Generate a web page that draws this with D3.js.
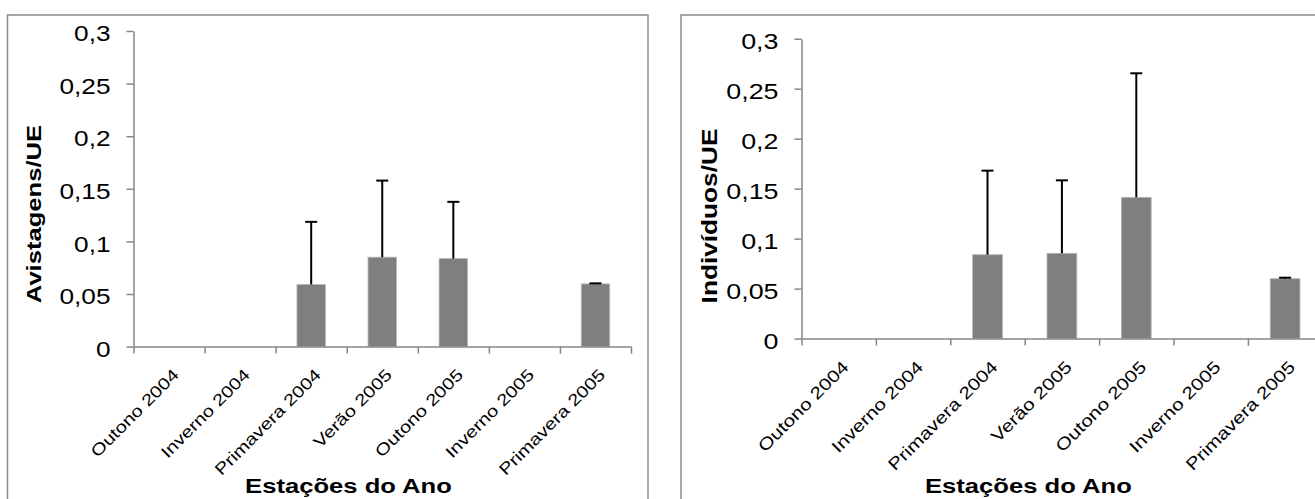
<!DOCTYPE html>
<html>
<head>
<meta charset="utf-8">
<script src="https://cdn.jsdelivr.net/npm/d3@7"></script>
<style>
  html, body { margin: 0; padding: 0; background: #fff; }
  svg { display: block; }
  text { font-family: "Liberation Sans", Arial, sans-serif; fill: #000; }
</style>
</head>
<body>
<svg id="chart" width="1315" height="499"></svg>
<script>
// Seasons sampled
const categories = ["Outono 2004", "Inverno 2004", "Primavera 2004", "Verão 2005",
                    "Outono 2005", "Inverno 2005", "Primavera 2005"];

// Sightings per unit of effort (mean and standard deviation)
const avistagens    = [0, 0, 0.059, 0.085, 0.0836, 0, 0.0596];
const avistagensErr = [0, 0, 0.0596, 0.0728, 0.054, 0, 0.0005];

// Individuals per unit of effort (mean and standard deviation)
const individuos    = [0, 0, 0.0839, 0.0853, 0.1413, 0, 0.0599];
const individuosErr = [0, 0, 0.0841, 0.073, 0.1241, 0, 0.001];

// Y axis tick values and titles
const yTicks = [0, 0.05, 0.1, 0.15, 0.2, 0.25, 0.3];
const xTitle = "Estações do Ano";
const yTitleLeft = "Avistagens/UE";
const yTitleRight = "Indivíduos/UE";

const ptBR = d3.formatLocale({ decimal: ",", thousands: ".", grouping: [3], currency: ["R$", ""] });
const fmt = ptBR.format("~g");

const svg = d3.select("#chart");
const STRETCH = 1.22;       // wide rendering of the glyphs along the baseline
const AXIS = "#868686";

function drawPanel(p) {
  const g = svg.append("g");

  // frame of the chart area
  g.append("path")
    .attr("d", `M${p.box[0]},${p.box[3]} V${p.box[1]} H${p.box[2]} V${p.box[3]}`)
    .attr("fill", "none").attr("stroke", "#8c8c8c").attr("stroke-width", 1.5);

  const x = d3.scaleBand().domain(categories)
    .range([p.x0, p.x1]).paddingInner(0.6).paddingOuter(0.3);
  const y = d3.scaleLinear().domain([0, 0.3]).range([p.yBottom, p.yTop]);
  const step = x.step();
  const edge = d3.scaleLinear().domain([0, categories.length]).range([p.x0, p.x1]);

  // bars
  const rows = categories.map((c, i) => ({ c, v: p.values[i], e: p.errors[i] }))
    .filter(d => d.v > 0);
  g.selectAll("rect.bar").data(rows).join("rect")
    .attr("class", "bar")
    .attr("x", d => x(d.c))
    .attr("width", x.bandwidth())
    .attr("y", d => y(d.v))
    .attr("height", d => y(0) - y(d.v))
    .attr("fill", "#7f7f7f")
    .attr("stroke", "#b5b5b5").attr("stroke-width", 0.8);

  // error bars (upper half)
  const cx = d => x(d.c) + x.bandwidth() / 2;
  g.selectAll("line.err").data(rows).join("line")
    .attr("class", "err")
    .attr("x1", cx).attr("x2", cx)
    .attr("y1", d => y(d.v)).attr("y2", d => y(d.v + d.e))
    .attr("stroke", "#000").attr("stroke-width", 2);
  g.selectAll("line.cap").data(rows).join("line")
    .attr("class", "cap")
    .attr("x1", d => cx(d) - 6).attr("x2", d => cx(d) + 6)
    .attr("y1", d => y(d.v + d.e)).attr("y2", d => y(d.v + d.e))
    .attr("stroke", "#000").attr("stroke-width", 2);

  // y axis
  const yAxis = g.append("g").attr("transform", `translate(${p.x0},0)`)
    .call(d3.axisLeft(y).tickValues(yTicks).tickSize(7).tickSizeOuter(0).tickFormat(fmt));
  yAxis.select(".domain").attr("stroke", AXIS).attr("stroke-width", 1.5);
  yAxis.selectAll(".tick line").attr("stroke", AXIS).attr("stroke-width", 1.5);
  yAxis.selectAll(".tick text")
    .attr("x", null).attr("dy", null)
    .attr("text-anchor", "end")
    .style("font-size", p.tickFont + "px")
    .attr("transform", `translate(-23,9.7) scale(${STRETCH},1)`);

  // x axis: line and boundary ticks
  const xAxis = g.append("g").attr("transform", `translate(0,${y(0)})`)
    .call(d3.axisBottom(edge).tickValues(d3.range(categories.length + 1))
      .tickSize(7).tickSizeOuter(0).tickFormat(""));
  xAxis.select(".domain").attr("stroke", AXIS).attr("stroke-width", 1.5);
  xAxis.selectAll(".tick line").attr("stroke", AXIS).attr("stroke-width", 1.5);

  // rotated category labels
  g.selectAll("text.cat").data(categories).join("text")
    .attr("class", "cat")
    .attr("text-anchor", "end")
    .attr("dy", "0.71em")
    .style("font-size", p.catFont + "px")
    .attr("transform", c => `translate(${x(c) + x.bandwidth() / 2 + 2.5},${y(0) + 21}) rotate(-45) scale(${STRETCH},1)`)
    .text(c => c);

  // axis titles
  g.append("text")
    .attr("text-anchor", "middle")
    .style("font-size", "21px").style("font-weight", "bold")
    .attr("transform", `translate(${p.xTitleX},493) scale(${STRETCH},1)`)
    .text(xTitle);
  g.append("text")
    .attr("text-anchor", "middle")
    .style("font-size", p.yTitleFont + "px").style("font-weight", "bold")
    .attr("transform", `translate(${p.yTitleX},${p.yTitleY}) rotate(-90) scale(${STRETCH},1)`)
    .text(p.yTitle);
}

drawPanel({
  box: [7.5, 15, 648, 520],
  x0: 133.5, x1: 631, yTop: 31, yBottom: 346.6,
  values: avistagens, errors: avistagensErr,
  tickFont: 21.5, catFont: 16.5,
  xTitleX: 348.5, yTitle: yTitleLeft, yTitleX: 41, yTitleY: 214, yTitleFont: 21
});

drawPanel({
  box: [681, 15, 1330, 520],
  x0: 801.5, x1: 1322.3, yTop: 38.7, yBottom: 338.6,
  values: individuos, errors: individuosErr,
  tickFont: 22, catFont: 17,
  xTitleX: 1028.4, yTitle: yTitleRight, yTitleX: 717, yTitleY: 216, yTitleFont: 21.5
});
</script>
</body>
</html>
